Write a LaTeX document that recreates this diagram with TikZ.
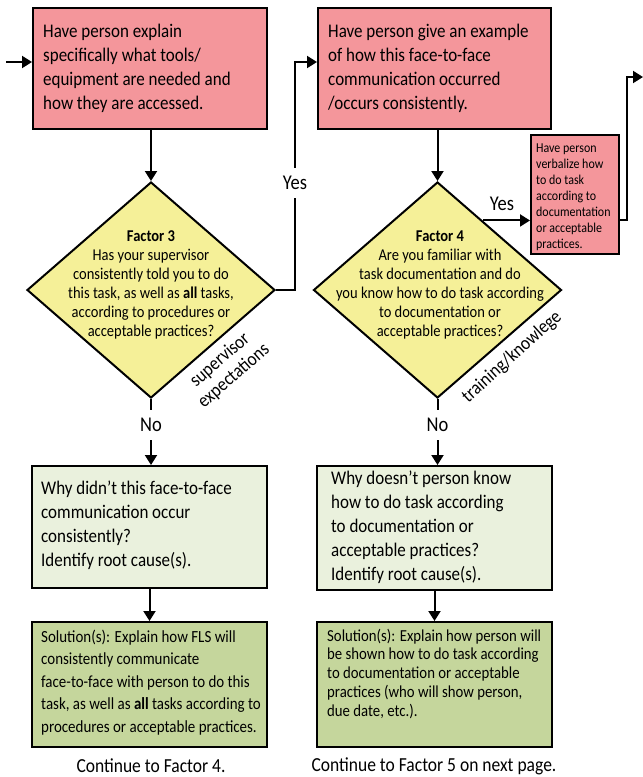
\documentclass[tikz,border=0pt]{standalone}
\usepackage{fontspec}
\setmainfont{Carlito}[FakeStretch=0.88]
\usetikzlibrary{shapes.geometric,arrows.meta,calc}
\definecolor{redbox}{RGB}{244,150,155}
\definecolor{yelbox}{RGB}{245,240,152}
\definecolor{ltgreen}{RGB}{234,241,221}
\definecolor{dkgreen}{RGB}{197,214,156}
\begin{document}
\begin{tikzpicture}[x=1pt,y=-1pt,
  boxshape/.style={rectangle, draw=black, line width=2pt, inner sep=0pt},
  dshape/.style={diamond, draw=black, line width=2pt, fill=yelbox, inner sep=0pt, minimum width=248pt, minimum height=216pt},
  txt/.style={inner sep=0pt, anchor=base west},
  ctxt/.style={inner sep=0pt, anchor=base},
  arr/.style={line width=2pt, -{Triangle[length=10pt,width=12pt]}},
  lbl/.style={font=\fontsize{21}{23}\selectfont, fill=white, inner xsep=1pt, inner ysep=8pt},
  rlbl/.style={font=\fontsize{19.3}{21}\selectfont, align=center, inner sep=0pt},
  conttxt/.style={inner sep=0pt, font=\fontsize{19.9}{22}\selectfont}
]
\useasboundingbox (0,0) rectangle (643,777);

% boxes
\node[boxshape, fill=redbox, minimum width=234pt, minimum height=121pt] (box1) at (150,68.5) {};
\node[boxshape, fill=redbox, minimum width=233pt, minimum height=121pt] (box2) at (434.5,68.5) {};
\node[boxshape, fill=ltgreen, minimum width=235pt, minimum height=122pt] (box3) at (149.5,527) {};
\node[boxshape, fill=dkgreen, minimum width=235pt, minimum height=125pt] (box4) at (149.5,684.5) {};
\node[boxshape, fill=redbox, minimum width=88pt, minimum height=119pt] (box5) at (575,194.5) {};
\node[boxshape, fill=ltgreen, minimum width=235pt, minimum height=124pt] (box6) at (434.5,528) {};
\node[boxshape, fill=dkgreen, minimum width=235pt, minimum height=125pt] (box7) at (434.5,684.5) {};

% diamonds
\node[dshape] (d1) at (151,290) {};
\node[dshape] (d2) at (437.5,290) {};

% box texts
\node[txt] (t1) at (43,37) {\parbox[t]{222pt}{\raggedright\fontsize{19.3}{24}\selectfont
Have person explain\\specifically what tools/\\equipment are needed and\\how they are accessed.}};
\node[txt] (t2) at (328,37) {\parbox[t]{222pt}{\raggedright\fontsize{19.3}{24}\selectfont
Have person give an example\\of how this face-to-face\\communication occurred\\/occurs consistently.}};
\node[txt] (t3) at (41,494) {\parbox[t]{222pt}{\raggedright\fontsize{19.3}{24}\selectfont
Why didn’t this face-to-face\\communication occur\\consistently?\\Identify root cause(s).}};
\node[txt] (t4) at (41,642) {\parbox[t]{228pt}{\raggedright\fontsize{17}{22.5}\selectfont
Solution(s): Explain how FLS will\\consistently communicate\\face-to-face with person to do this\\task, as well as \textbf{all} tasks according to\\procedures or acceptable practices.}};
\node[txt] (t5) at (536,152) {\parbox[t]{84pt}{\raggedright\fontsize{13.6}{16}\selectfont
Have person\\verbalize how\\to do task\\according to\\documentation\\or acceptable\\practices.}};
\node[txt] (t6) at (331,484) {\parbox[t]{222pt}{\raggedright\fontsize{19.3}{24.2}\selectfont
Why doesn’t person know\\how to do task according\\to documentation or\\acceptable practices?\\Identify root cause(s).}};
\node[txt] (t7) at (327,641) {\parbox[t]{228pt}{\raggedright\fontsize{16.8}{18.75}\selectfont
Solution(s): Explain how person will\\be shown how to do task according\\to documentation or acceptable\\practices (who will show person,\\due date, etc.).}};

% diamond texts
\node[ctxt] (dt1) at (151,241) {\parbox[t]{250pt}{\centering\fontsize{16.5}{19}\selectfont
\textbf{Factor 3}\\Has your supervisor\\consistently told you to do\\this task, as well as \textbf{all} tasks,\\according to procedures or\\acceptable practices?}};
\node[ctxt] (dt2) at (440,241) {\parbox[t]{250pt}{\centering\fontsize{16.5}{19}\selectfont
\textbf{Factor 4}\\Are you familiar with\\task documentation and do\\you know how to do task according\\to documentation or\\acceptable practices?}};

% rotated labels
\node[rlbl, rotate=41] (r1) at (227,368) {supervisor\\expectations};
\node[rlbl, rotate=42] (r2) at (512,357) {training/knowlege};

% continue texts
\node[conttxt] (c1) at (151,766) {Continue to Factor 4.};
\node[conttxt] (c2) at (434,766) {Continue to Factor 5 on next page.};

% connectors
\coordinate (in1) at (6,62);
\draw[arr] (in1) -- (in1 -| box1.west);
\draw[arr] (d1.north |- box1.south) -- (d1.north);
\coordinate (turn1) at (295,62);
\draw[arr] (d1.east) -| (turn1) -- (turn1 -| box2.west);
\node[lbl] (yes1) at (295,183) {Yes};
\draw[arr] (d1.south) -- (d1.south |- box3.north);
\node[lbl] (no1) at (151,425) {No};
\draw[arr] (box3.south) -- (box4.north);

\draw[arr] (d2.north |- box2.south) -- (d2.north);
\coordinate (p2) at ($(d2.north)!0.362!(d2.east)$);
\draw[arr] (p2) -- (p2 -| box5.west);
\node[font=\fontsize{21}{23}\selectfont, inner sep=0pt] (yes2) at (502,204) {Yes};
\coordinate (out2) at (643,77);
\draw[arr] (p2 -| box5.east) -- ++(7,0) |- (out2);
\draw[arr] (d2.south) -- (d2.south |- box6.north);
\node[lbl] (no2) at (437.5,425) {No};
\draw[arr] (box6.south) -- (box7.north);
\end{tikzpicture}
\end{document}
